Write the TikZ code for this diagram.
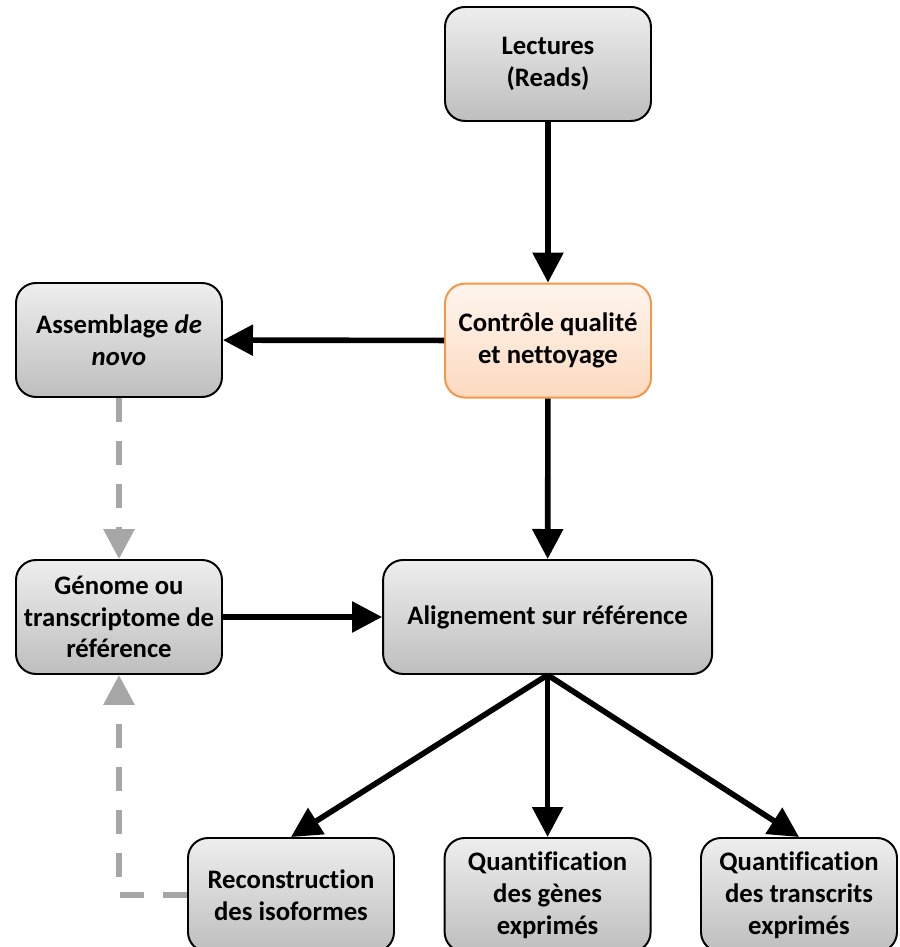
\documentclass[tikz,border=0pt]{standalone}
\usepackage{fontspec}
\setmainfont{Carlito}[Ligatures=NoCommon]
\usetikzlibrary{arrows.meta}
\def\bw{51.5mm}
\def\bh{28.5mm}
\def\wide{82.25mm}
\definecolor{boxtop}{HTML}{EEEEEE}
\definecolor{boxbot}{HTML}{BEBEBE}
\definecolor{qctop}{HTML}{FEF5EE}
\definecolor{qcbot}{HTML}{FDDAC0}
\definecolor{qcline}{HTML}{F79646}
\definecolor{dashgray}{HTML}{A6A6A6}

\tikzset{
  stage/.style={draw=black, line width=1.4pt, rounded corners=5mm,
    top color=boxtop, bottom color=boxbot, align=center,
    minimum width=\bw, minimum height=\bh, inner sep=0pt,
    font=\bfseries\fontsize{19}{22.6}\selectfont},
  qcstage/.style={stage, draw=qcline, top color=qctop, bottom color=qcbot},
  flow/.style={line width=4pt, -{Triangle[length=7.5mm,width=7.5mm]}},
  back/.style={line width=4.4pt, draw=dashgray, dash pattern=on 6mm off 4.75mm,
    -{Triangle[length=7.5mm,width=7.5mm,fill=dashgray]}}
}

\begin{document}
\begin{tikzpicture}

\useasboundingbox (0,0) rectangle (224.75mm,236.75mm);

%main line
\node[stage] (reads) at (137mm,220.75mm) {Lectures\\(Reads)};
\node[qcstage] (qc) at (137mm,151.6mm) {Contr\^ole qualit\'e\\et nettoyage};
\node[stage, minimum width=\wide] (align) at (136.9mm,82.5mm) {Alignement sur r\'ef\'erence};

%left column
\node[stage] (denovo) at (29.75mm,151.75mm) {Assemblage \textit{de}\\\textit{novo}};
\node[stage] (ref) at (29.75mm,82.5mm) {G\'enome ou\\transcriptome de\\r\'ef\'erence};

%results, cut by the page bottom
\node[stage] (iso) at (72.75mm,13mm) {Reconstruction\\des isoformes};
\node[stage] (genes) at (136.9mm,13mm) {Quantification\\des g\`enes\\exprim\'es};
\node[stage, minimum width=49mm] (trans) at (199.75mm,13mm) {Quantification\\des transcrits\\exprim\'es};

\draw[flow] (reads) -- (qc);
\draw[flow] (qc) -- (denovo);
\draw[flow] (qc) -- (align);
\draw[flow] (ref) -- (align);
\draw[flow] (align.south) -- (iso.north);
\draw[flow] (align.south) -- (genes.north);
\draw[flow] (align.south) -- (trans.north);

\draw[back] (denovo) -- (ref);
\draw[back] (iso.west) -| (ref.south);

\end{tikzpicture}
\end{document}
